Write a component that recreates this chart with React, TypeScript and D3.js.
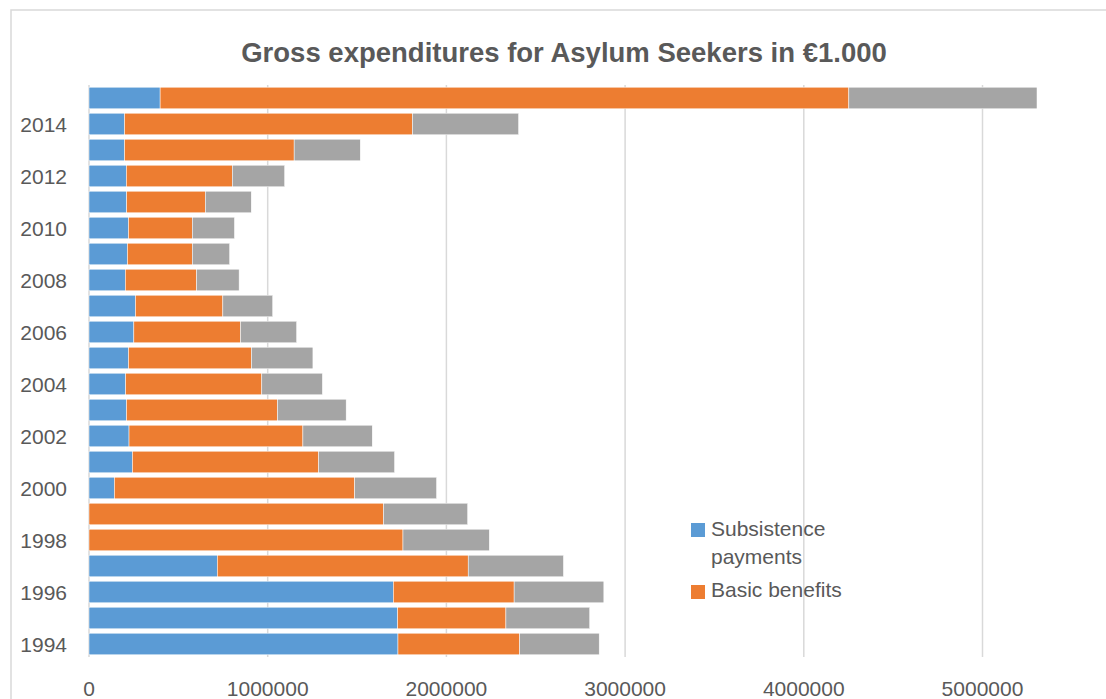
import React from "react";
import * as d3 from "d3";

const years = [1994, 1995, 1996, 1997, 1998, 1999, 2000, 2001, 2002, 2003, 2004, 2005, 2006, 2007, 2008, 2009, 2010, 2011, 2012, 2013, 2014, 2015];
const subsistence = [1729000, 1727000, 1703000, 718000, 0, 0, 142000, 243000, 224000, 210000, 205000, 221000, 251000, 260000, 203000, 215000, 221000, 211000, 209000, 199000, 199000, 398000];
const basic = [681000, 606000, 676000, 1404000, 1757000, 1648000, 1345000, 1042000, 973000, 845000, 762000, 688000, 597000, 489000, 399000, 363000, 357000, 440000, 593000, 949000, 1611000, 3854000];
const other = [445000, 469000, 502000, 533000, 483000, 471000, 458000, 425000, 388000, 384000, 339000, 344000, 314000, 279000, 238000, 209000, 236000, 257000, 293000, 370000, 594000, 1053000];
const seriesNames = ["Subsistence payments", "Basic benefits", "Other"];
const colors = ["#5b9bd5", "#ed7d31", "#a5a5a5"];
const xTicks = [0, 1000000, 2000000, 3000000, 4000000, 5000000];
const yLabelYears = [1994, 1996, 1998, 2000, 2002, 2004, 2006, 2008, 2010, 2012, 2014];
const title = "Gross expenditures for Asylum Seekers in €1.000";

const W = 1106;
const H = 699;
const FONT = "'Liberation Sans', Arial, sans-serif";
const TXT = "#595959";

export default function App() {
  const x = d3.scaleLinear().domain([0, 5000000]).range([89, 982.5]);
  const y = d3
    .scaleBand<number>()
    .domain([...years].reverse())
    .range([85, 657])
    .paddingInner(0.17)
    .paddingOuter(0.085);

  const rows = years.map((yr, i) => ({
    year: yr,
    s0: subsistence[i],
    s1: basic[i],
    s2: other[i],
  }));
  const stack = d3.stack<any>().keys(["s0", "s1", "s2"]);
  const stacked = stack(rows);

  return (
    <svg
      width={W}
      height={H}
      style={{ position: "absolute", left: 0, top: 0, background: "#fff" }}
      fontFamily={FONT}
    >
      <rect x={0} y={0} width={W} height={H} fill="#fff" />
      <rect x={11} y={10} width={W + 50} height={H + 50} fill="#fff" stroke="#d9d9d9" strokeWidth={1.5} />
      <text x={564} y={62} textAnchor="middle" fontSize={27.5} fontWeight="bold" fill={TXT}>
        {title}
      </text>
      {xTicks.map((t) => (
        <g key={t}>
          {t > 0 && (
            <line x1={x(t)} x2={x(t)} y1={85} y2={657} stroke="#d9d9d9" strokeWidth={1.5} />
          )}
          <text x={x(t)} y={696} textAnchor="middle" fontSize={21} fill={TXT}>
            {t}
          </text>
        </g>
      ))}
      <line x1={x(0)} x2={x(0)} y1={85} y2={657} stroke="#d9d9d9" strokeWidth={1.5} />
      {stacked.map((layer, li) =>
        layer.map((d: any, i: number) => {
          const w = x(d[1]) - x(d[0]);
          if (w <= 0) return null;
          return (
            <rect
              key={li + "-" + i}
              x={x(d[0])}
              y={y(rows[i].year)!}
              width={w}
              height={y.bandwidth()}
              fill={colors[li]}
              stroke="#ffffff"
              strokeWidth={0.5}
            />
          );
        })
      )}
      {yLabelYears.map((yr) => (
        <text
          key={yr}
          x={67}
          y={y(yr)! + y.bandwidth() / 2 + 7.5}
          textAnchor="end"
          fontSize={21}
          fill={TXT}
        >
          {yr}
        </text>
      ))}
      <g>
        <rect x={691} y={523} width={14} height={14} fill={colors[0]} />
        <text x={711} y={536} fontSize={21} fill={TXT}>Subsistence</text>
        <text x={711} y={564} fontSize={21} fill={TXT}>payments</text>
        <rect x={691} y={585} width={14} height={14} fill={colors[1]} />
        <text x={711} y={597} fontSize={21} fill={TXT}>{seriesNames[1]}</text>
      </g>
    </svg>
  );
}
